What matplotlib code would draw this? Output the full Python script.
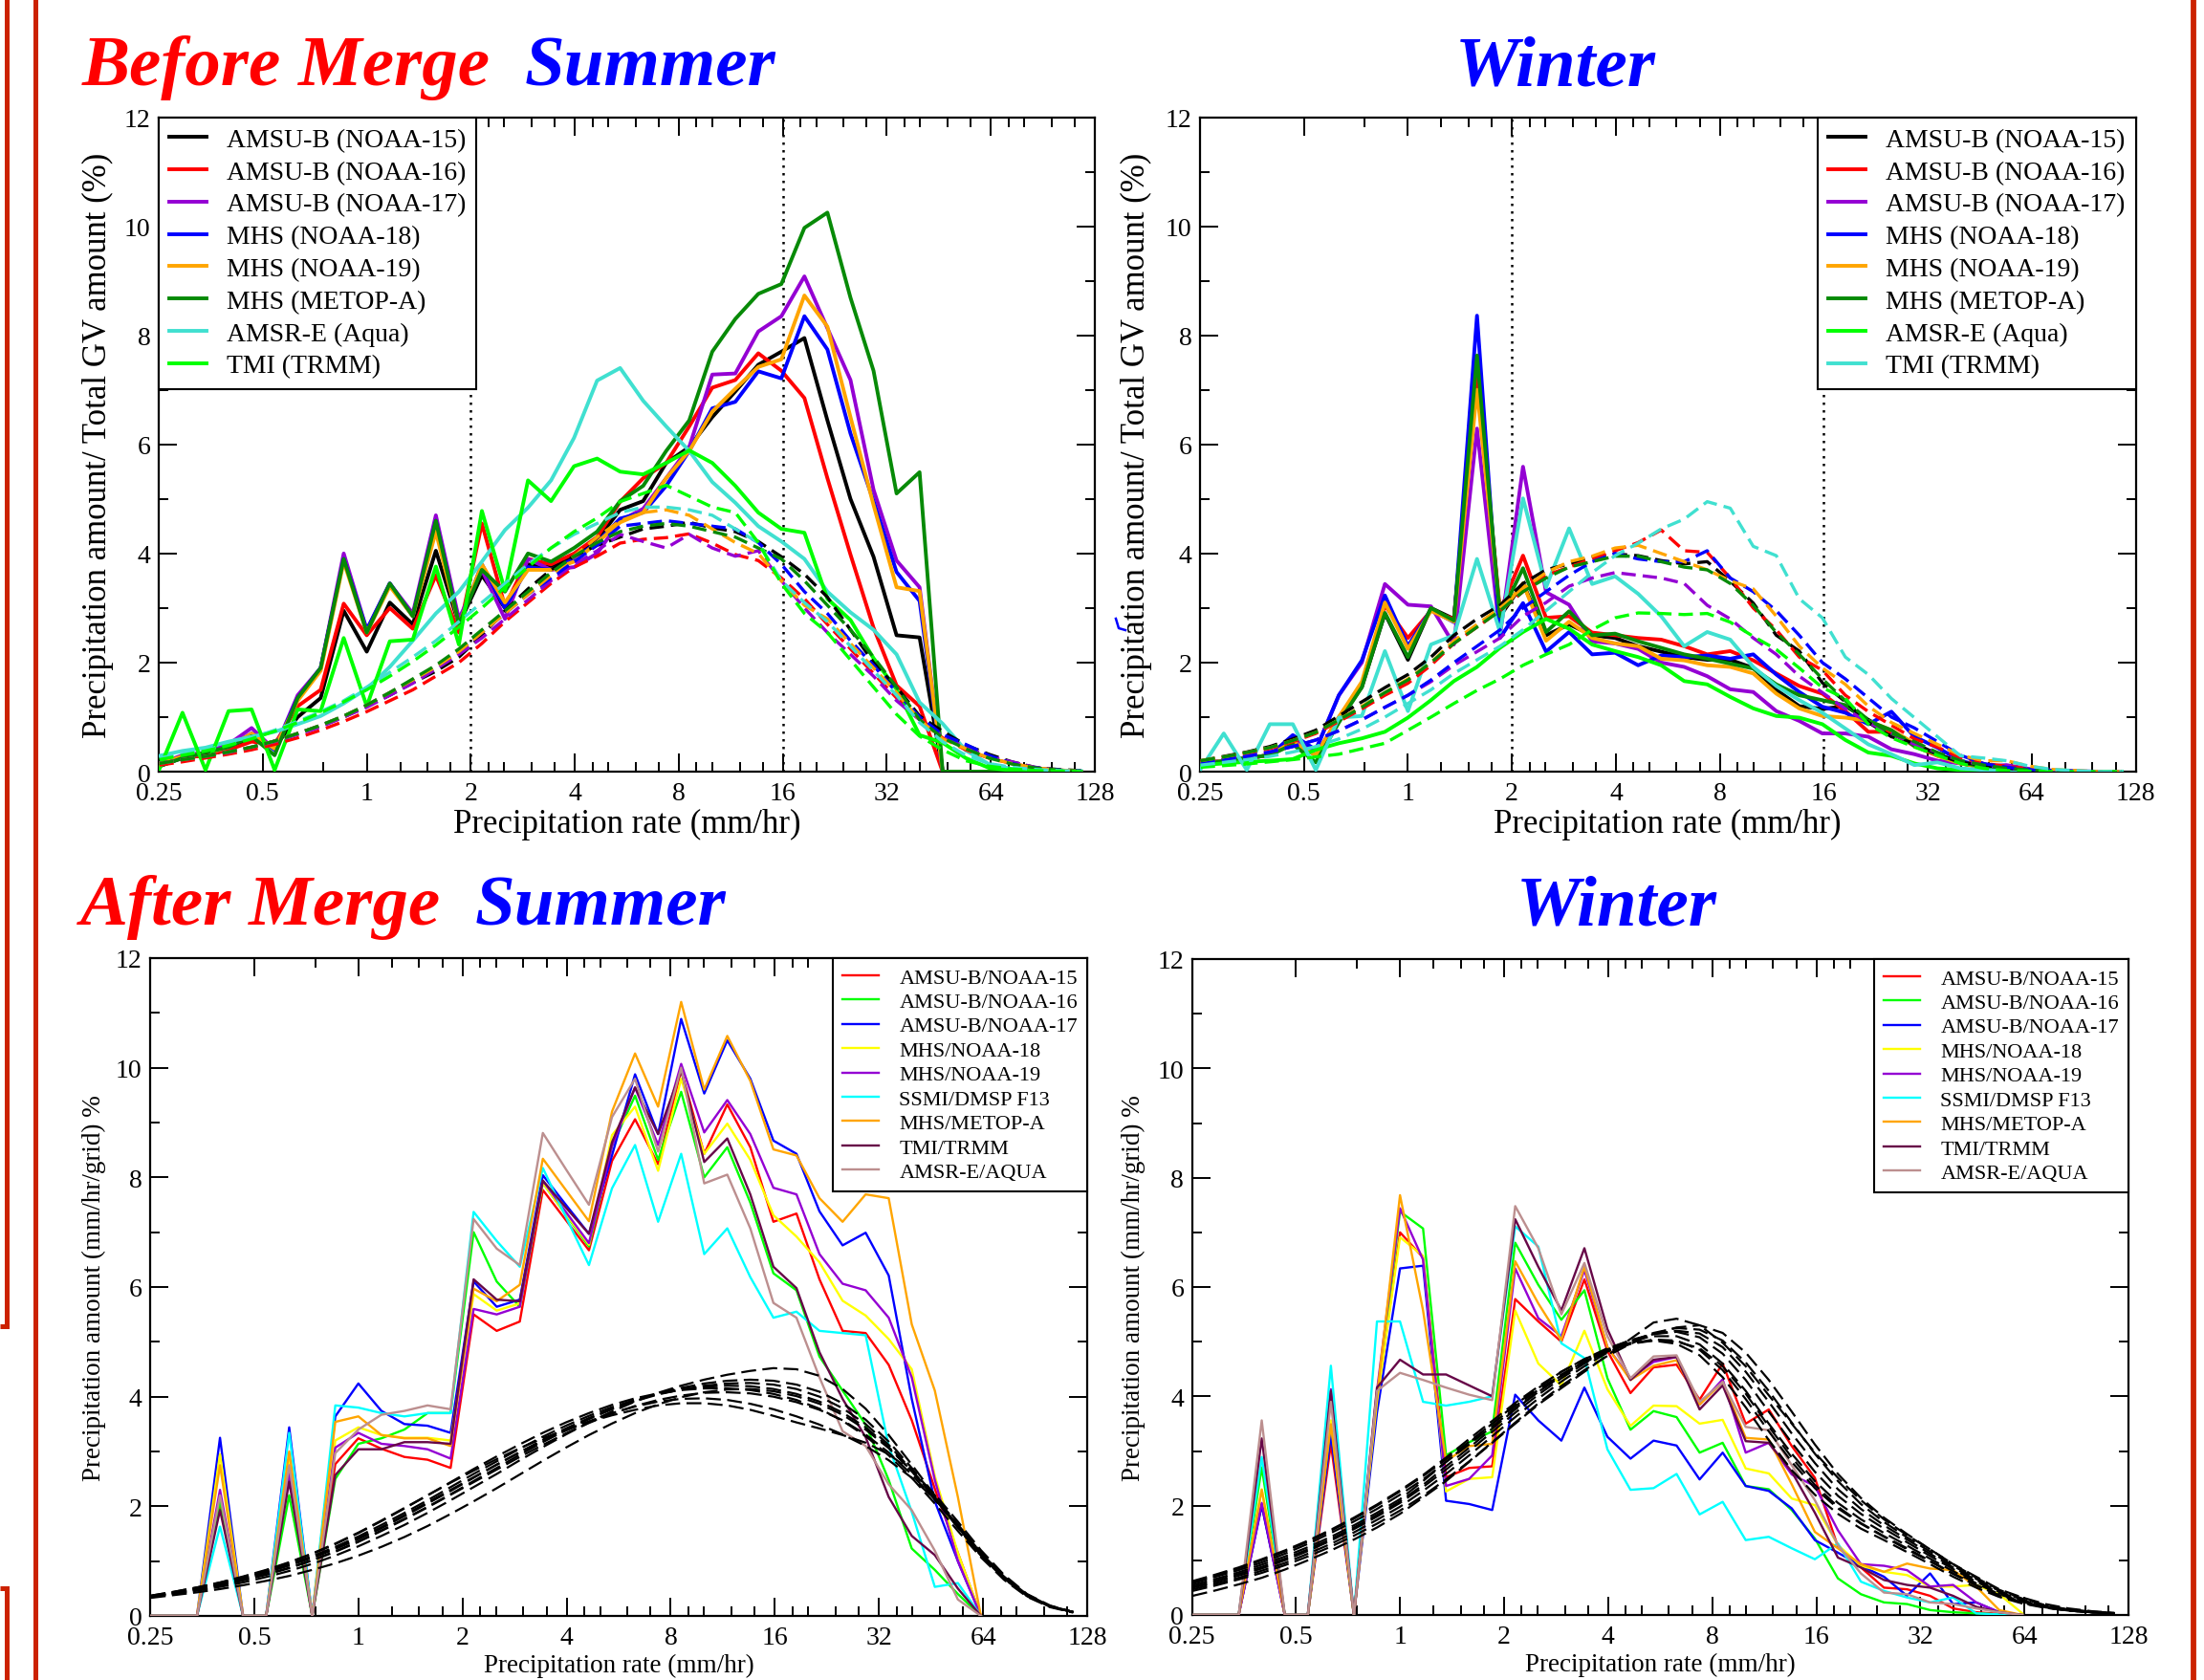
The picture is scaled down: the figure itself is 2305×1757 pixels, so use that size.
import matplotlib
matplotlib.use("Agg")
import matplotlib.pyplot as plt
from matplotlib.lines import Line2D
from matplotlib.ticker import NullFormatter

plt.rcParams['font.family'] = ['Liberation Serif', 'DejaVu Serif']

nan = float('nan')

# rain-rate bins (mm/hr), 15 per decade
rate = [0.2512, 0.2929, 0.3415, 0.3981, 0.4642, 0.5412, 0.6310, 0.7356, 0.8577, 1.0,
        1.166, 1.359, 1.585, 1.848, 2.154, 2.512, 2.929, 3.415, 3.981, 4.642,
        5.412, 6.310, 7.356, 8.577, 10.0, 11.66, 13.59, 15.85, 18.48, 21.54,
        25.12, 29.29, 34.15, 39.81, 46.42, 54.12, 63.10, 73.56, 85.77, 100.0, 116.6]

xticks_major = [0.25, 0.5, 1, 2, 4, 8, 16, 32, 64, 128]
xtick_labels = ['0.25', '0.5', '1', '2', '4', '8', '16', '32', '64', '128']
xticks_minor = [0.75, 1.25, 1.5, 1.75, 2.25, 2.5, 3, 3.5, 4.5, 5, 6, 7, 9, 10, 12, 14,
                18, 20, 24, 28, 36, 40, 48, 56, 72, 80, 96, 112]

# ---------------- Before merge, summer (solid = satellite, dashed = GV) ----------------
bm_sum_n15 = [0.10, 0.25, 0.30, 0.40, 0.60, 0.45, 1.00, 1.35, 2.95, 2.20,
              3.10, 2.70, 4.05, 2.70, 3.60, 3.00, 3.80, 3.75, 3.95, 4.25,
              4.80, 4.96, 5.66, 5.95, 6.50, 6.97, 7.46, 7.70, 7.95, 6.44,
              5.00, 3.94, 2.50, 2.46, 0.00, 0.00, 0.00, 0.00, 0.00, 0.00, 0.00]
bm_sum_n16 = [0.15, 0.25, 0.30, 0.40, 0.55, 0.50, 1.20, 1.50, 3.08, 2.50,
              3.00, 2.62, 3.60, 2.55, 4.55, 3.03, 3.90, 3.80, 4.00, 4.30,
              4.95, 5.38, 5.66, 6.33, 7.04, 7.18, 7.67, 7.35, 6.85, 5.38,
              3.98, 2.64, 1.58, 1.20, 0.00, 0.00, 0.00, 0.00, 0.00, 0.00, 0.00]
bm_sum_n17 = [0.15, 0.30, 0.35, 0.50, 0.80, 0.40, 1.40, 1.90, 4.00, 2.60,
              3.45, 2.90, 4.70, 2.80, 3.70, 2.80, 3.90, 3.70, 3.75, 4.00,
              4.60, 4.82, 5.38, 5.95, 7.28, 7.30, 8.07, 8.35, 9.08, 8.13,
              7.18, 5.17, 3.87, 3.38, 0.00, 0.00, 0.00, 0.00, 0.00, 0.00, 0.00]
bm_sum_n18 = [0.15, 0.28, 0.33, 0.45, 0.70, 0.40, 1.35, 1.90, 3.90, 2.60,
              3.45, 2.85, 4.60, 2.70, 3.80, 3.00, 3.75, 3.70, 3.90, 4.20,
              4.64, 4.75, 5.24, 5.88, 6.66, 6.78, 7.34, 7.21, 8.35, 7.74,
              6.20, 4.96, 3.66, 3.13, 0.00, 0.00, 0.00, 0.00, 0.00, 0.00, 0.00]
bm_sum_n19 = [0.15, 0.28, 0.33, 0.45, 0.70, 0.42, 1.30, 1.85, 3.85, 2.55,
              3.40, 2.85, 4.40, 2.70, 3.80, 3.10, 3.70, 3.70, 3.85, 4.20,
              4.57, 4.75, 5.38, 5.88, 6.60, 7.02, 7.42, 7.56, 8.73, 8.16,
              6.50, 4.89, 3.38, 3.31, 0.00, 0.00, 0.00, 0.00, 0.00, 0.00, 0.00]
bm_sum_metop = [0.10, 0.25, 0.35, 0.45, 0.65, 0.30, 1.35, 1.90, 3.90, 2.55,
                3.45, 2.85, 4.60, 2.70, 3.70, 3.30, 4.00, 3.85, 4.10, 4.40,
                4.96, 5.24, 5.88, 6.44, 7.70, 8.30, 8.76, 8.94, 9.97, 10.25,
                8.69, 7.35, 5.10, 5.49, 0.00, 0.00, 0.00, 0.00, 0.00, 0.00, 0.00]
bm_sum_amsre = [0.29, 0.38, 0.44, 0.55, 0.64, 0.73, 0.87, 1.02, 1.25, 1.52,
                1.92, 2.40, 2.90, 3.30, 3.85, 4.43, 4.84, 5.34, 6.12, 7.17,
                7.40, 6.80, 6.33, 5.88, 5.31, 4.93, 4.50, 4.22, 3.90, 3.30,
                2.92, 2.60, 2.15, 1.27, 0.88, 0.39, 0.14, 0.05, 0.02, 0.01, 0.01]
bm_sum_tmi = [0.05, 1.08, 0.03, 1.11, 1.14, 0.03, 1.14, 1.11, 2.45, 1.20,
              2.39, 2.42, 3.76, 2.33, 4.78, 3.32, 5.34, 4.96, 5.60, 5.74,
              5.50, 5.45, 5.66, 5.89, 5.66, 5.24, 4.75, 4.45, 4.38, 3.17,
              2.78, 2.08, 1.51, 0.67, 0.53, 0.25, 0.07, 0.02, 0.01, 0.01, 0.00]

bm_sum_n15_gv = [0.15, 0.22, 0.29, 0.36, 0.44, 0.56, 0.70, 0.84, 1.00, 1.20,
                 1.40, 1.63, 1.84, 2.10, 2.50, 2.95, 3.35, 3.70, 3.95, 4.15,
                 4.30, 4.45, 4.50, 4.57, 4.47, 4.40, 4.22, 3.94, 3.62, 3.20,
                 2.60, 2.00, 1.55, 1.02, 0.74, 0.49, 0.32, 0.18, 0.08, 0.04, 0.02]
bm_sum_n16_gv = [0.12, 0.18, 0.25, 0.32, 0.40, 0.50, 0.62, 0.76, 0.92, 1.10,
                 1.30, 1.50, 1.75, 2.00, 2.35, 2.75, 3.10, 3.45, 3.75, 3.95,
                 4.19, 4.26, 4.29, 4.36, 4.19, 3.98, 3.87, 3.55, 3.17, 2.70,
                 2.25, 1.80, 1.35, 0.95, 0.62, 0.40, 0.25, 0.15, 0.07, 0.03, 0.01]
bm_sum_n17_gv = [0.15, 0.22, 0.28, 0.35, 0.45, 0.55, 0.68, 0.82, 1.00, 1.18,
                 1.40, 1.62, 1.88, 2.15, 2.45, 2.80, 3.15, 3.50, 3.80, 4.05,
                 4.35, 4.22, 4.10, 4.35, 4.10, 3.95, 4.05, 3.50, 3.00, 2.55,
                 2.15, 1.75, 1.30, 0.95, 0.65, 0.45, 0.28, 0.18, 0.08, 0.03, 0.01]
bm_sum_n18_gv = [0.15, 0.22, 0.28, 0.36, 0.45, 0.56, 0.70, 0.85, 1.02, 1.22,
                 1.45, 1.68, 1.92, 2.20, 2.55, 2.90, 3.25, 3.55, 3.85, 4.15,
                 4.50, 4.55, 4.60, 4.55, 4.50, 4.45, 4.20, 3.80, 3.30, 2.90,
                 2.40, 1.95, 1.45, 1.00, 0.68, 0.50, 0.30, 0.15, 0.07, 0.03, 0.01]
bm_sum_n19_gv = [0.15, 0.22, 0.28, 0.36, 0.45, 0.56, 0.70, 0.85, 1.02, 1.22,
                 1.45, 1.68, 1.92, 2.20, 2.55, 2.90, 3.25, 3.60, 3.95, 4.30,
                 4.60, 4.75, 4.80, 4.70, 4.45, 4.20, 4.00, 3.50, 3.05, 2.80,
                 2.35, 1.90, 1.45, 0.95, 0.60, 0.42, 0.25, 0.15, 0.07, 0.03, 0.01]
bm_sum_metop_gv = [0.15, 0.22, 0.28, 0.36, 0.45, 0.56, 0.70, 0.85, 1.02, 1.22,
                   1.45, 1.70, 1.95, 2.25, 2.60, 2.95, 3.30, 3.65, 3.95, 4.20,
                   4.40, 4.50, 4.55, 4.50, 4.40, 4.30, 4.10, 3.90, 3.50, 3.05,
                   2.60, 2.10, 1.55, 0.95, 0.62, 0.42, 0.25, 0.14, 0.07, 0.03, 0.01]
bm_sum_amsre_gv = [0.25, 0.32, 0.40, 0.50, 0.62, 0.76, 0.92, 1.10, 1.30, 1.55,
                   1.82, 2.10, 2.40, 2.75, 3.10, 3.45, 3.80, 4.10, 4.35, 4.55,
                   4.75, 4.85, 4.85, 4.80, 4.70, 4.45, 4.20, 3.50, 3.10, 2.75,
                   2.30, 1.85, 1.40, 0.90, 0.55, 0.30, 0.15, 0.08, 0.04, 0.02, 0.01]
bm_sum_tmi_gv = [0.22, 0.30, 0.38, 0.48, 0.60, 0.74, 0.90, 1.08, 1.28, 1.50,
                 1.75, 2.02, 2.32, 2.65, 3.00, 3.38, 3.75, 4.10, 4.40, 4.65,
                 4.95, 5.10, 5.25, 5.05, 4.85, 4.75, 4.20, 3.45, 2.90, 2.55,
                 2.05, 1.55, 1.05, 0.65, 0.40, 0.20, 0.10, 0.05, 0.02, 0.01, 0.00]

# ---------------- Before merge, winter ----------------
bm_win_n15 = [0.15, 0.20, 0.25, 0.30, 0.55, 0.30, 0.95, 1.55, 2.90, 2.05,
              3.00, 2.80, 7.40, 2.85, 3.45, 2.50, 2.70, 2.50, 2.45, 2.30,
              2.20, 2.10, 2.05, 2.05, 1.90, 1.50, 1.20, 1.15, 1.20, 0.95,
              0.70, 0.50, 0.30, 0.15, 0.08, 0.04, 0.02, 0.01, 0.00, 0.00, 0.00]
bm_win_n16 = [0.15, 0.20, 0.25, 0.30, 0.60, 0.30, 1.00, 1.60, 3.05, 2.45,
              2.95, 2.80, 7.30, 2.95, 3.96, 2.82, 2.85, 2.55, 2.50, 2.45,
              2.42, 2.30, 2.15, 2.21, 2.04, 1.80, 1.57, 1.43, 1.11, 0.73,
              0.73, 0.47, 0.29, 0.17, 0.09, 0.05, 0.02, 0.01, 0.00, 0.00, 0.00]
bm_win_n17 = [0.15, 0.20, 0.25, 0.30, 0.55, 0.40, 1.40, 2.00, 3.44, 3.06,
              3.03, 2.33, 6.29, 2.50, 5.59, 3.29, 3.06, 2.39, 2.35, 2.25,
              2.00, 1.92, 1.75, 1.51, 1.46, 1.11, 0.93, 0.70, 0.70, 0.64,
              0.41, 0.32, 0.20, 0.15, 0.10, 0.12, 0.05, 0.02, 0.01, 0.00, 0.00]
bm_win_n18 = [0.15, 0.20, 0.25, 0.30, 0.67, 0.40, 1.40, 2.04, 3.23, 2.30,
              2.97, 2.74, 8.36, 2.45, 3.09, 2.20, 2.56, 2.15, 2.18, 1.95,
              2.13, 2.10, 2.13, 2.07, 2.15, 1.78, 1.46, 1.19, 1.08, 0.87,
              1.10, 0.64, 0.44, 0.20, 0.09, 0.04, 0.02, 0.01, 0.00, 0.00, 0.00]
bm_win_n19 = [0.15, 0.20, 0.25, 0.30, 0.55, 0.30, 1.00, 1.65, 3.10, 2.25,
              2.95, 2.75, 7.00, 2.90, 3.45, 2.40, 2.75, 2.45, 2.35, 2.30,
              2.07, 2.04, 1.95, 1.92, 1.80, 1.43, 1.16, 1.02, 0.99, 0.93,
              0.76, 0.52, 0.29, 0.15, 0.08, 0.05, 0.02, 0.01, 0.00, 0.00, 0.00]
bm_win_metop = [0.12, 0.20, 0.25, 0.30, 0.50, 0.17, 0.90, 1.55, 2.91, 2.10,
                3.00, 2.77, 7.63, 2.85, 3.73, 2.56, 2.94, 2.50, 2.53, 2.39,
                2.27, 2.15, 2.07, 1.98, 1.89, 1.60, 1.40, 1.31, 1.22, 0.93,
                0.76, 0.47, 0.32, 0.17, 0.09, 0.05, 0.02, 0.01, 0.00, 0.00, 0.00]
bm_win_amsre = [0.12, 0.15, 0.18, 0.20, 0.23, 0.40, 0.52, 0.61, 0.73, 0.99,
                1.31, 1.66, 1.92, 2.27, 2.56, 2.80, 2.62, 2.33, 2.21, 2.10,
                1.95, 1.66, 1.60, 1.37, 1.16, 1.02, 0.99, 0.87, 0.58, 0.35,
                0.29, 0.15, 0.06, 0.03, 0.02, 0.01, 0.00, 0.00, 0.00, 0.00, 0.00]
bm_win_tmi = [0.05, 0.70, 0.03, 0.87, 0.87, 0.03, 0.99, 1.02, 2.21, 1.11,
              2.33, 2.50, 3.90, 2.56, 5.01, 3.38, 4.46, 3.44, 3.58, 3.26,
              2.85, 2.30, 2.56, 2.42, 1.92, 1.57, 1.31, 1.08, 0.79, 0.50,
              0.32, 0.12, 0.17, 0.06, 0.03, 0.02, 0.01, 0.00, 0.00, 0.00, 0.00]

bm_win_n15_gv = [0.20, 0.28, 0.36, 0.46, 0.60, 0.76, 1.02, 1.28, 1.54, 1.78,
                 2.10, 2.50, 2.80, 3.05, 3.45, 3.70, 3.81, 3.93, 3.99, 3.96,
                 3.87, 3.81, 3.85, 3.49, 3.09, 2.50, 2.21, 1.63, 1.28, 0.90,
                 0.64, 0.52, 0.32, 0.17, 0.12, 0.06, 0.03, 0.01, 0.00, 0.00, 0.00]
bm_win_n16_gv = [0.18, 0.25, 0.33, 0.42, 0.55, 0.70, 0.92, 1.15, 1.40, 1.62,
                 1.95, 2.35, 2.65, 2.95, 3.30, 3.60, 3.75, 3.90, 4.05, 4.20,
                 4.43, 4.05, 4.02, 3.55, 3.00, 2.60, 2.10, 1.86, 1.40, 1.10,
                 0.85, 0.60, 0.45, 0.25, 0.15, 0.10, 0.05, 0.02, 0.01, 0.00, 0.00]
bm_win_n17_gv = [0.15, 0.22, 0.28, 0.36, 0.46, 0.58, 0.75, 0.95, 1.18, 1.40,
                 1.65, 1.95, 2.20, 2.45, 2.85, 3.10, 3.40, 3.55, 3.65, 3.60,
                 3.55, 3.45, 3.05, 2.80, 2.45, 2.15, 1.75, 1.45, 1.15, 0.90,
                 0.70, 0.50, 0.35, 0.20, 0.12, 0.06, 0.03, 0.01, 0.00, 0.00, 0.00]
bm_win_n18_gv = [0.15, 0.22, 0.28, 0.36, 0.46, 0.58, 0.75, 0.95, 1.18, 1.40,
                 1.68, 2.00, 2.30, 2.60, 3.00, 3.30, 3.60, 3.85, 4.00, 3.90,
                 3.85, 3.85, 4.05, 3.55, 3.30, 2.95, 2.50, 2.00, 1.70, 1.35,
                 1.00, 0.80, 0.55, 0.30, 0.15, 0.08, 0.04, 0.02, 0.01, 0.00, 0.00]
bm_win_n19_gv = [0.20, 0.27, 0.35, 0.44, 0.57, 0.72, 0.95, 1.20, 1.45, 1.70,
                 2.00, 2.40, 2.70, 3.00, 3.35, 3.65, 3.85, 3.95, 4.10, 4.15,
                 4.00, 3.85, 3.70, 3.50, 3.35, 2.85, 2.30, 1.90, 1.60, 1.20,
                 0.90, 0.70, 0.50, 0.30, 0.20, 0.20, 0.10, 0.04, 0.02, 0.00, 0.00]
bm_win_metop_gv = [0.20, 0.27, 0.35, 0.44, 0.57, 0.72, 0.95, 1.18, 1.45, 1.68,
                   2.00, 2.35, 2.65, 2.95, 3.30, 3.55, 3.75, 3.85, 3.95, 3.95,
                   3.85, 3.75, 3.70, 3.45, 3.05, 2.55, 2.15, 1.70, 1.30, 0.95,
                   0.70, 0.55, 0.35, 0.20, 0.12, 0.06, 0.03, 0.01, 0.00, 0.00, 0.00]
bm_win_amsre_gv = [0.08, 0.11, 0.14, 0.18, 0.22, 0.27, 0.32, 0.42, 0.52, 0.76,
                   1.00, 1.25, 1.49, 1.70, 1.95, 2.15, 2.33, 2.60, 2.82, 2.91,
                   2.90, 2.88, 2.90, 2.74, 2.48, 2.24, 1.90, 1.54, 1.34, 0.87,
                   0.62, 0.45, 0.30, 0.15, 0.06, 0.02, 0.01, 0.00, 0.00, 0.00, 0.00]
bm_win_tmi_gv = [0.12, 0.17, 0.22, 0.28, 0.36, 0.46, 0.60, 0.78, 1.00, 1.25,
                 1.50, 1.80, 2.05, 2.30, 2.60, 2.95, 3.30, 3.65, 3.96, 4.19,
                 4.45, 4.63, 4.95, 4.83, 4.13, 3.96, 3.17, 2.82, 2.10, 1.78,
                 1.34, 0.99, 0.64, 0.29, 0.25, 0.20, 0.10, 0.04, 0.02, 0.00, 0.00]

# ---------------- After merge, summer ----------------
am_sum_n15 = [0.00, 0.00, 0.00, 2.00, 0.00, 0.00, 2.70, 0.00, 2.77, 3.24,
              3.05, 2.90, 2.85, 2.70, 5.50, 5.20, 5.37, 7.77, 7.22, 6.67,
              8.30, 9.06, 8.24, 9.95, 8.43, 9.33, 8.55, 7.19, 7.34, 6.14,
              5.20, 5.16, 4.58, 3.57, 2.32, 1.15, 0.00, nan, nan, nan, nan]
am_sum_n16 = [0.00, 0.00, 0.00, 2.10, 0.00, 0.00, 2.20, 0.00, 2.50, 3.14,
              3.24, 3.40, 3.70, 3.70, 7.00, 6.10, 5.64, 7.90, 7.32, 6.74,
              8.57, 9.49, 8.32, 9.56, 8.00, 8.55, 7.54, 6.25, 5.94, 4.73,
              4.11, 3.49, 2.48, 1.23, 0.84, 0.40, 0.00, nan, nan, nan, nan]
am_sum_n17 = [0.00, 0.00, 0.00, 3.25, 0.00, 0.00, 3.44, 0.00, 3.64, 4.24,
              3.74, 3.50, 3.47, 3.34, 6.10, 5.64, 5.77, 8.04, 7.50, 6.97,
              8.40, 9.88, 8.79, 10.89, 9.53, 10.50, 9.80, 8.67, 8.43, 7.38,
              6.76, 6.99, 6.21, 3.96, 2.09, 1.00, 0.00, nan, nan, nan, nan]
am_sum_n18 = [0.00, 0.00, 0.00, 2.95, 0.00, 0.00, 2.90, 0.00, 3.20, 3.44,
              3.30, 3.25, 3.25, 3.20, 5.87, 5.57, 5.70, 7.90, 7.33, 6.77,
              8.77, 9.29, 8.12, 9.80, 8.43, 8.98, 8.32, 7.31, 6.92, 6.45,
              5.75, 5.48, 5.05, 4.50, 2.55, 1.15, 0.00, nan, nan, nan, nan]
am_sum_n19 = [0.00, 0.00, 0.00, 2.30, 0.00, 0.00, 2.60, 0.00, 3.07, 3.34,
              3.14, 3.10, 3.04, 2.87, 5.60, 5.50, 5.64, 7.94, 7.37, 6.80,
              8.57, 9.64, 8.59, 10.07, 8.82, 9.41, 8.79, 7.81, 7.69, 6.60,
              6.06, 5.94, 5.44, 4.35, 2.48, 1.00, 0.00, nan, nan, nan, nan]
am_sum_ssmi = [0.00, 0.00, 0.00, 1.63, 0.00, 0.00, 3.34, 0.00, 3.84, 3.80,
               3.70, 3.64, 3.70, 3.70, 7.37, 6.84, 6.37, 8.17, 7.28, 6.40,
               7.80, 8.59, 7.19, 8.43, 6.60, 7.07, 6.18, 5.44, 5.55, 5.20,
               5.16, 5.12, 3.10, 1.90, 0.53, 0.60, 0.00, nan, nan, nan, nan]
am_sum_metop = [0.00, 0.00, 0.00, 2.75, 0.00, 0.00, 3.00, 0.00, 3.54, 3.64,
                3.30, 3.24, 3.24, 3.10, 5.97, 5.74, 6.04, 8.34, 7.77, 7.20,
                9.20, 10.26, 9.29, 11.20, 9.60, 10.58, 9.76, 8.51, 8.40, 7.62,
                7.19, 7.69, 7.62, 5.32, 4.11, 2.17, 0.00, nan, nan, nan, nan]
am_sum_tmi = [0.00, 0.00, 0.00, 1.93, 0.00, 0.00, 2.45, 0.00, 2.57, 3.04,
              3.04, 3.17, 3.17, 3.14, 6.14, 5.77, 5.74, 7.94, 7.45, 6.97,
              8.64, 9.64, 8.79, 9.95, 8.28, 8.71, 7.69, 6.37, 5.98, 4.81,
              3.96, 3.26, 2.17, 1.46, 1.11, 0.50, 0.00, nan, nan, nan, nan]
am_sum_amsre = [0.00, 0.00, 0.00, 2.20, 0.00, 0.00, 2.75, 0.00, 2.97, 3.40,
                3.67, 3.74, 3.84, 3.77, 7.24, 6.70, 6.40, 8.81, 8.15, 7.50,
                9.10, 9.80, 8.47, 10.00, 7.89, 8.05, 7.07, 5.71, 5.44, 4.35,
                3.37, 3.10, 2.40, 1.93, 1.19, 0.30, 0.00, nan, nan, nan, nan]

am_sum_fit1 = [0.37, 0.44, 0.52, 0.61, 0.71, 0.83, 0.97, 1.13, 1.31, 1.51,
               1.73, 1.96, 2.20, 2.44, 2.68, 2.91, 3.13, 3.34, 3.53, 3.70,
               3.85, 3.97, 4.06, 4.12, 4.15, 4.15, 4.12, 4.05, 3.94, 3.78,
               3.56, 3.28, 2.93, 2.52, 2.05, 1.55, 1.07, 0.66, 0.35, 0.16, 0.06]
am_sum_fit2 = [0.36, 0.43, 0.51, 0.60, 0.70, 0.81, 0.94, 1.09, 1.26, 1.45,
               1.66, 1.88, 2.11, 2.35, 2.59, 2.82, 3.05, 3.27, 3.47, 3.65,
               3.81, 3.94, 4.05, 4.13, 4.18, 4.20, 4.19, 4.14, 4.05, 3.91,
               3.71, 3.44, 3.08, 2.64, 2.14, 1.61, 1.10, 0.68, 0.36, 0.17, 0.07]
am_sum_fit3 = [0.36, 0.42, 0.50, 0.58, 0.68, 0.79, 0.92, 1.06, 1.22, 1.40,
               1.60, 1.82, 2.05, 2.28, 2.52, 2.76, 2.99, 3.21, 3.42, 3.61,
               3.78, 3.92, 4.04, 4.13, 4.20, 4.24, 4.25, 4.22, 4.14, 4.00,
               3.79, 3.50, 3.12, 2.66, 2.15, 1.62, 1.11, 0.69, 0.37, 0.17, 0.07]
am_sum_fit4 = [0.35, 0.41, 0.48, 0.56, 0.65, 0.76, 0.88, 1.02, 1.18, 1.36,
               1.56, 1.77, 1.99, 2.22, 2.46, 2.70, 2.94, 3.17, 3.39, 3.59,
               3.77, 3.93, 4.06, 4.16, 4.24, 4.29, 4.31, 4.29, 4.22, 4.09,
               3.88, 3.58, 3.18, 2.70, 2.17, 1.63, 1.11, 0.69, 0.37, 0.17, 0.07]
am_sum_fit5 = [0.34, 0.40, 0.46, 0.53, 0.61, 0.71, 0.82, 0.95, 1.10, 1.27,
               1.46, 1.66, 1.88, 2.11, 2.35, 2.59, 2.84, 3.08, 3.31, 3.53,
               3.73, 3.91, 4.07, 4.20, 4.31, 4.40, 4.47, 4.52, 4.50, 4.38,
               4.14, 3.78, 3.30, 2.76, 2.20, 1.64, 1.12, 0.70, 0.38, 0.18, 0.07]
am_sum_fit6 = [0.35, 0.41, 0.48, 0.56, 0.65, 0.75, 0.87, 1.01, 1.17, 1.35,
               1.55, 1.76, 1.98, 2.21, 2.44, 2.67, 2.90, 3.12, 3.33, 3.52,
               3.69, 3.83, 3.94, 4.02, 4.07, 4.08, 4.06, 4.00, 3.90, 3.76,
               3.57, 3.31, 2.98, 2.58, 2.12, 1.62, 1.12, 0.70, 0.38, 0.18, 0.07]
am_sum_fit7 = [0.33, 0.38, 0.43, 0.49, 0.56, 0.64, 0.73, 0.84, 0.96, 1.10,
               1.26, 1.44, 1.64, 1.86, 2.09, 2.33, 2.58, 2.83, 3.07, 3.30,
               3.51, 3.70, 3.86, 3.99, 4.08, 4.13, 4.14, 4.10, 4.01, 3.87,
               3.67, 3.40, 3.06, 2.65, 2.18, 1.67, 1.15, 0.72, 0.39, 0.18, 0.07]
am_sum_fit8 = [0.36, 0.43, 0.50, 0.59, 0.69, 0.80, 0.93, 1.08, 1.24, 1.42,
               1.62, 1.84, 2.07, 2.30, 2.53, 2.76, 2.98, 3.19, 3.38, 3.55,
               3.70, 3.82, 3.91, 3.96, 3.97, 3.94, 3.87, 3.77, 3.64, 3.49,
               3.31, 3.10, 2.84, 2.52, 2.13, 1.66, 1.16, 0.72, 0.39, 0.18, 0.07]
am_sum_fit9 = [0.37, 0.44, 0.52, 0.61, 0.72, 0.84, 0.98, 1.14, 1.32, 1.52,
               1.74, 1.97, 2.20, 2.43, 2.65, 2.86, 3.06, 3.24, 3.40, 3.54,
               3.66, 3.76, 3.84, 3.88, 3.88, 3.84, 3.76, 3.65, 3.53, 3.42,
               3.30, 3.16, 2.95, 2.64, 2.22, 1.72, 1.20, 0.75, 0.40, 0.19, 0.07]

# ---------------- After merge, winter ----------------
am_win_n15 = [0.00, 0.00, 0.00, 2.02, 0.00, 0.00, 3.13, 0.00, 3.90, 7.00,
              6.54, 2.52, 2.69, 2.72, 5.78, 5.37, 5.00, 6.14, 4.83, 4.06,
              4.53, 4.58, 3.94, 4.60, 3.50, 3.76, 3.09, 2.51, 1.25, 0.87,
              0.50, 0.47, 0.35, 0.12, 0.05, 0.02, 0.00, nan, nan, nan, nan]
am_win_n16 = [0.00, 0.00, 0.00, 2.70, 0.00, 0.00, 3.40, 0.00, 4.00, 7.38,
              7.07, 2.92, 3.16, 3.36, 6.81, 6.04, 5.40, 5.94, 4.33, 3.39,
              3.73, 3.62, 2.97, 3.15, 2.36, 2.30, 1.92, 1.40, 0.67, 0.38,
              0.23, 0.20, 0.09, 0.05, 0.03, 0.01, 0.00, nan, nan, nan, nan]
am_win_n17 = [0.00, 0.00, 0.00, 2.00, 0.00, 0.00, 3.30, 0.00, 3.70, 6.34,
              6.39, 2.09, 2.03, 1.92, 4.03, 3.56, 3.19, 4.16, 3.26, 2.86,
              3.19, 3.10, 2.48, 2.97, 2.36, 2.27, 1.95, 1.37, 1.14, 0.90,
              0.70, 0.35, 0.76, 0.20, 0.23, 0.05, 0.00, nan, nan, nan, nan]
am_win_n18 = [0.00, 0.00, 0.00, 2.30, 0.00, 0.00, 3.56, 0.00, 3.90, 6.91,
              6.57, 2.26, 2.49, 2.52, 5.57, 4.60, 4.20, 5.20, 4.13, 3.46,
              3.83, 3.82, 3.50, 3.57, 2.68, 2.59, 2.13, 2.01, 1.28, 0.90,
              0.79, 0.73, 0.52, 0.52, 0.55, 0.38, 0.03, nan, nan, nan, nan]
am_win_n19 = [0.00, 0.00, 0.00, 2.05, 0.00, 0.00, 4.13, 0.00, 4.10, 7.44,
              6.50, 2.36, 2.49, 2.92, 6.34, 5.43, 5.10, 6.31, 4.90, 4.33,
              4.63, 4.72, 3.85, 4.31, 2.97, 3.15, 2.57, 2.36, 1.55, 0.93,
              0.90, 0.82, 0.52, 0.55, 0.23, 0.05, 0.00, nan, nan, nan, nan]
am_win_ssmi = [0.00, 0.00, 0.00, 2.89, 0.00, 0.00, 4.56, 0.00, 5.37, 5.37,
               3.90, 3.83, 3.90, 4.00, 7.11, 6.74, 4.97, 4.70, 3.03, 2.29,
               2.32, 2.58, 1.84, 2.07, 1.37, 1.43, 1.22, 1.02, 1.31, 0.61,
               0.44, 0.32, 0.23, 0.32, 0.03, 0.01, 0.00, nan, nan, nan, nan]
am_win_metop = [0.00, 0.00, 0.00, 2.29, 0.00, 0.00, 3.49, 0.00, 4.00, 7.68,
                5.57, 2.82, 3.09, 3.13, 6.47, 5.70, 5.03, 6.37, 4.90, 4.30,
                4.56, 4.66, 3.85, 4.26, 3.24, 3.21, 2.39, 1.52, 1.22, 0.93,
                0.79, 0.94, 0.85, 0.82, 0.52, 0.09, 0.00, nan, nan, nan, nan]
am_win_tmi = [0.00, 0.00, 0.00, 3.23, 0.00, 0.00, 4.10, 0.00, 4.16, 4.67,
              4.40, 4.40, 4.20, 4.00, 7.24, 6.37, 5.57, 6.71, 5.23, 4.30,
              4.67, 4.72, 3.76, 4.20, 3.18, 3.15, 2.62, 1.87, 1.05, 0.87,
              0.64, 0.55, 0.50, 0.35, 0.15, 0.05, 0.00, nan, nan, nan, nan]
am_win_amsre = [0.00, 0.00, 0.00, 3.56, 0.00, 0.00, 3.90, 0.00, 4.10, 4.43,
                4.30, 4.16, 4.03, 3.93, 7.48, 6.71, 5.50, 6.44, 5.10, 4.33,
                4.73, 4.75, 3.90, 4.26, 3.44, 3.38, 2.74, 2.10, 1.28, 0.76,
                0.41, 0.38, 0.23, 0.20, 0.12, 0.05, 0.00, nan, nan, nan, nan]

am_win_fit1 = [0.35, 0.45, 0.56, 0.68, 0.83, 1.00, 1.18, 1.38, 1.60, 1.85,
               2.15, 2.45, 2.80, 3.15, 3.50, 3.85, 4.15, 4.45, 4.75, 5.05,
               5.35, 5.42, 5.30, 4.98, 4.55, 4.02, 3.50, 2.97, 2.51, 2.10,
               1.75, 1.46, 1.20, 0.93, 0.70, 0.47, 0.32, 0.20, 0.12, 0.07, 0.04]
am_win_fit2 = [0.62, 0.74, 0.87, 1.02, 1.18, 1.36, 1.56, 1.78, 2.02, 2.28,
               2.56, 2.88, 3.22, 3.55, 3.88, 4.18, 4.45, 4.68, 4.86, 4.98,
               5.02, 4.96, 4.75, 4.35, 3.80, 3.20, 2.65, 2.20, 1.85, 1.58,
               1.37, 1.15, 0.93, 0.70, 0.50, 0.33, 0.21, 0.13, 0.08, 0.05, 0.03]
am_win_fit3 = [0.58, 0.70, 0.82, 0.96, 1.12, 1.30, 1.50, 1.71, 1.94, 2.20,
               2.48, 2.80, 3.12, 3.45, 3.78, 4.08, 4.37, 4.62, 4.82, 4.96,
               5.04, 5.02, 4.85, 4.48, 3.95, 3.36, 2.80, 2.32, 1.95, 1.67,
               1.43, 1.20, 0.98, 0.75, 0.54, 0.36, 0.22, 0.14, 0.08, 0.05, 0.03]
am_win_fit4 = [0.55, 0.66, 0.78, 0.92, 1.07, 1.24, 1.43, 1.64, 1.87, 2.12,
               2.45, 2.80, 3.15, 3.50, 3.85, 4.15, 4.45, 4.68, 4.88, 5.02,
               5.10, 5.10, 4.95, 4.60, 4.10, 3.50, 2.95, 2.45, 2.05, 1.75,
               1.50, 1.27, 1.03, 0.80, 0.58, 0.38, 0.24, 0.14, 0.08, 0.05, 0.03]
am_win_fit5 = [0.52, 0.63, 0.75, 0.88, 1.03, 1.20, 1.39, 1.60, 1.83, 2.08,
               2.38, 2.72, 3.06, 3.41, 3.76, 4.08, 4.38, 4.64, 4.86, 5.03,
               5.14, 5.18, 5.08, 4.78, 4.30, 3.72, 3.15, 2.62, 2.18, 1.85,
               1.58, 1.33, 1.08, 0.84, 0.61, 0.40, 0.25, 0.15, 0.09, 0.05, 0.03]
am_win_fit6 = [0.50, 0.60, 0.72, 0.85, 1.00, 1.17, 1.36, 1.57, 1.80, 2.05,
               2.34, 2.66, 3.00, 3.35, 3.70, 4.03, 4.33, 4.60, 4.83, 5.01,
               5.14, 5.20, 5.15, 4.90, 4.45, 3.90, 3.32, 2.78, 2.30, 1.94,
               1.64, 1.38, 1.12, 0.87, 0.64, 0.42, 0.27, 0.16, 0.09, 0.05, 0.03]
am_win_fit7 = [0.47, 0.57, 0.68, 0.81, 0.95, 1.12, 1.30, 1.51, 1.74, 1.98,
               2.27, 2.58, 2.92, 3.27, 3.62, 3.96, 4.27, 4.55, 4.80, 5.00,
               5.16, 5.25, 5.22, 5.02, 4.62, 4.10, 3.52, 2.95, 2.45, 2.03,
               1.70, 1.42, 1.16, 0.90, 0.66, 0.44, 0.28, 0.17, 0.10, 0.06, 0.03]
am_win_fit8 = [0.60, 0.72, 0.85, 1.00, 1.16, 1.34, 1.54, 1.76, 2.00, 2.26,
               2.54, 2.85, 3.17, 3.50, 3.82, 4.12, 4.40, 4.64, 4.83, 4.96,
               5.02, 5.00, 4.88, 4.55, 4.05, 3.45, 2.88, 2.38, 1.98, 1.68,
               1.44, 1.22, 0.99, 0.76, 0.55, 0.36, 0.23, 0.14, 0.08, 0.05, 0.03]
am_win_fit9 = [0.44, 0.54, 0.65, 0.77, 0.91, 1.07, 1.25, 1.45, 1.67, 1.91,
               2.18, 2.48, 2.81, 3.16, 3.52, 3.87, 4.19, 4.48, 4.74, 4.96,
               5.14, 5.26, 5.30, 5.16, 4.80, 4.30, 3.72, 3.12, 2.58, 2.14,
               1.78, 1.48, 1.20, 0.93, 0.68, 0.46, 0.30, 0.18, 0.10, 0.06, 0.03]

top_labels = ['AMSU-B (NOAA-15)', 'AMSU-B (NOAA-16)', 'AMSU-B (NOAA-17)', 'MHS (NOAA-18)',
              'MHS (NOAA-19)', 'MHS (METOP-A)', 'AMSR-E (Aqua)', 'TMI (TRMM)']
bot_labels = ['AMSU-B/NOAA-15', 'AMSU-B/NOAA-16', 'AMSU-B/NOAA-17', 'MHS/NOAA-18',
              'MHS/NOAA-19', 'SSMI/DMSP F13', 'MHS/METOP-A', 'TMI/TRMM', 'AMSR-E/AQUA']

# colours
c_top_sum = ['#000000', '#ff0000', '#9400d3', '#0000ff', '#ffa500', '#078a07', '#40e0d0', '#00ff00']
c_top_win = ['#000000', '#ff0000', '#9400d3', '#0000ff', '#ffa500', '#078a07', '#00ff00', '#40e0d0']
c_bot = ['#ff0000', '#00ff00', '#0000ff', '#ffff00', '#9400d3', '#00ffff', '#ffa500', '#670748', '#bc8f8f']

W, H = 2305, 1758
fig = plt.figure(figsize=(W / 100, H / 100), dpi=100)


def box(l, t, r, b):
    return [l / W, 1 - b / H, (r - l) / W, (b - t) / H]


def setup(ax, xlab, ylab, labsize, ylab_x):
    ax.set_xscale('log', base=2)
    ax.set_xlim(0.25, 128)
    ax.set_ylim(0, 12)
    ax.set_xticks(xticks_major)
    ax.set_xticklabels(xtick_labels)
    ax.set_xticks(xticks_minor, minor=True)
    ax.xaxis.set_minor_formatter(NullFormatter())
    ax.set_yticks(range(0, 13, 2))
    ax.set_yticks(range(1, 12, 2), minor=True)
    ax.tick_params(which='both', direction='in', top=True, right=True, width=1.4, labelsize=20)
    ax.tick_params(which='major', length=13.5)
    ax.tick_params(which='minor', length=7)
    ax.tick_params(axis='x', pad=7)
    ax.tick_params(axis='y', pad=6)
    for s in ax.spines.values():
        s.set_linewidth(1.6)
    ax.set_xlabel(xlab, fontsize=labsize)
    ax.set_ylabel(ylab, fontsize=labsize)
    ax.yaxis.set_label_coords(ylab_x, 0.5)
    ax.xaxis.set_label_coords(0.5, -0.056)


# ---- top panels ----
ax_tl = fig.add_axes(box(166, 123.5, 1145, 808))
ax_tr = fig.add_axes(box(1255, 123.5, 2233.5, 808))

sum_solid = [bm_sum_n15, bm_sum_n16, bm_sum_n17, bm_sum_n18, bm_sum_n19, bm_sum_metop, bm_sum_amsre, bm_sum_tmi]
sum_gv = [bm_sum_n15_gv, bm_sum_n16_gv, bm_sum_n17_gv, bm_sum_n18_gv, bm_sum_n19_gv, bm_sum_metop_gv,
          bm_sum_amsre_gv, bm_sum_tmi_gv]
win_solid = [bm_win_n15, bm_win_n16, bm_win_n17, bm_win_n18, bm_win_n19, bm_win_metop, bm_win_amsre, bm_win_tmi]
win_gv = [bm_win_n15_gv, bm_win_n16_gv, bm_win_n17_gv, bm_win_n18_gv, bm_win_n19_gv, bm_win_metop_gv,
          bm_win_amsre_gv, bm_win_tmi_gv]

for ax, solid, gv, cols, ylx, loc, anchor in [
        (ax_tl, sum_solid, sum_gv, c_top_sum, -0.048, 'upper left', (0, 1)),
        (ax_tr, win_solid, win_gv, c_top_win, -0.051, 'upper right', (1, 1))]:
    setup(ax, 'Precipitation rate (mm/hr)', 'Precipitation amount/ Total GV amount (%)', 25, ylx)
    for xv in (2, 16):
        ax.axvline(xv, color='black', lw=1.8, linestyle=(0, (1, 2.2)), zorder=1)
    hs = []
    for ys, c, lab in zip(solid, cols, top_labels):
        h, = ax.plot(rate, ys, color=c, lw=2.8, label=lab, zorder=3)
        hs.append(h)
    for ys, c in zip(gv, cols):
        ax.plot(rate, ys, color=c, lw=2.4, linestyle=(0, (4.5, 2.2)), zorder=3)
    leg = ax.legend(handles=hs, loc=loc, bbox_to_anchor=anchor, borderaxespad=0, fontsize=20,
                    fancybox=False, framealpha=1, edgecolor='black', handlelength=1.4,
                    handletextpad=0.75, borderpad=0.4, labelspacing=0.3)
    leg.get_frame().set_linewidth(1.5)
    leg.set_zorder(5)

# small stray blue mark left of the winter panel
fig.add_artist(Line2D([1167 / W, 1170 / W, 1177 / W], [1 - 648 / H, 1 - 658 / H, 1 - 660 / H],
                      color='#0000ff', lw=1.8, transform=fig.transFigure))

# ---- bottom panels ----
ax_bl = fig.add_axes(box(157, 1003, 1137, 1691))
ax_br = fig.add_axes(box(1246.5, 1004, 2226, 1690))

asum = [am_sum_n15, am_sum_n16, am_sum_n17, am_sum_n18, am_sum_n19, am_sum_ssmi, am_sum_metop, am_sum_tmi, am_sum_amsre]
asum_fit = [am_sum_fit1, am_sum_fit2, am_sum_fit3, am_sum_fit4, am_sum_fit5, am_sum_fit6, am_sum_fit7,
            am_sum_fit8, am_sum_fit9]
awin = [am_win_n15, am_win_n16, am_win_n17, am_win_n18, am_win_n19, am_win_ssmi, am_win_metop, am_win_tmi, am_win_amsre]
awin_fit = [am_win_fit1, am_win_fit2, am_win_fit3, am_win_fit4, am_win_fit5, am_win_fit6, am_win_fit7,
            am_win_fit8, am_win_fit9]

for ax, solid, fits, ylx in [(ax_bl, asum, asum_fit, -0.047), (ax_br, awin, awin_fit, -0.0495)]:
    setup(ax, 'Precipitation rate (mm/hr)', 'Precipitation amount (mm/hr/grid) %', 19.5, ylx)
    hs = []
    for ys, c, lab in zip(solid, c_bot, bot_labels):
        h, = ax.plot(rate, ys, color=c, lw=1.7, label=lab, zorder=3)
        hs.append(h)
    for ys in fits:
        ax.plot(rate, ys, color='black', lw=1.6, linestyle=(0, (7, 3)), zorder=4)
    leg = ax.legend(handles=hs, loc='upper right', bbox_to_anchor=(1, 1), borderaxespad=0, fontsize=16,
                    fancybox=False, framealpha=1, edgecolor='black', handlelength=1.7,
                    handletextpad=0.95, borderpad=0.45, labelspacing=0.22)
    leg.get_frame().set_linewidth(1.5)
    leg.set_zorder(5)

# ---- titles ----
tkw = dict(fontsize=54, fontweight='bold', fontstyle='italic', va='baseline', ha='left')
fig.text(86 / W, 1 - 89 / H, 'Before Merge', color='#ff0000', **tkw)
fig.text(549 / W, 1 - 89 / H, 'Summer', color='#0000ff', **tkw)
fig.text(1522 / W, 1 - 89 / H, 'Winter', color='#0000ff', **tkw)
fig.text(84 / W, 1 - 967 / H, 'After Merge', color='#ff0000', **tkw)
fig.text(497 / W, 1 - 967 / H, 'Summer', color='#0000ff', **tkw)
fig.text(1586 / W, 1 - 967 / H, 'Winter', color='#0000ff', **tkw)

# ---- red page-frame strokes ----
red = '#cc2200'


def stroke(xs, ys, lw=3.6):
    fig.add_artist(Line2D([x / W for x in xs], [1 - y / H for y in ys], color=red, lw=lw,
                          transform=fig.transFigure, solid_capstyle='butt', solid_joinstyle='miter'))


stroke([0, 6.5, 6.5], [1388, 1388, 0])
stroke([0, 6.5, 6.5], [1662, 1662, H])
stroke([37, 37], [0, H])
stroke([2293.5, 2293.5], [0, H], lw=4.2)

fig.savefig('out.png', dpi=100)
